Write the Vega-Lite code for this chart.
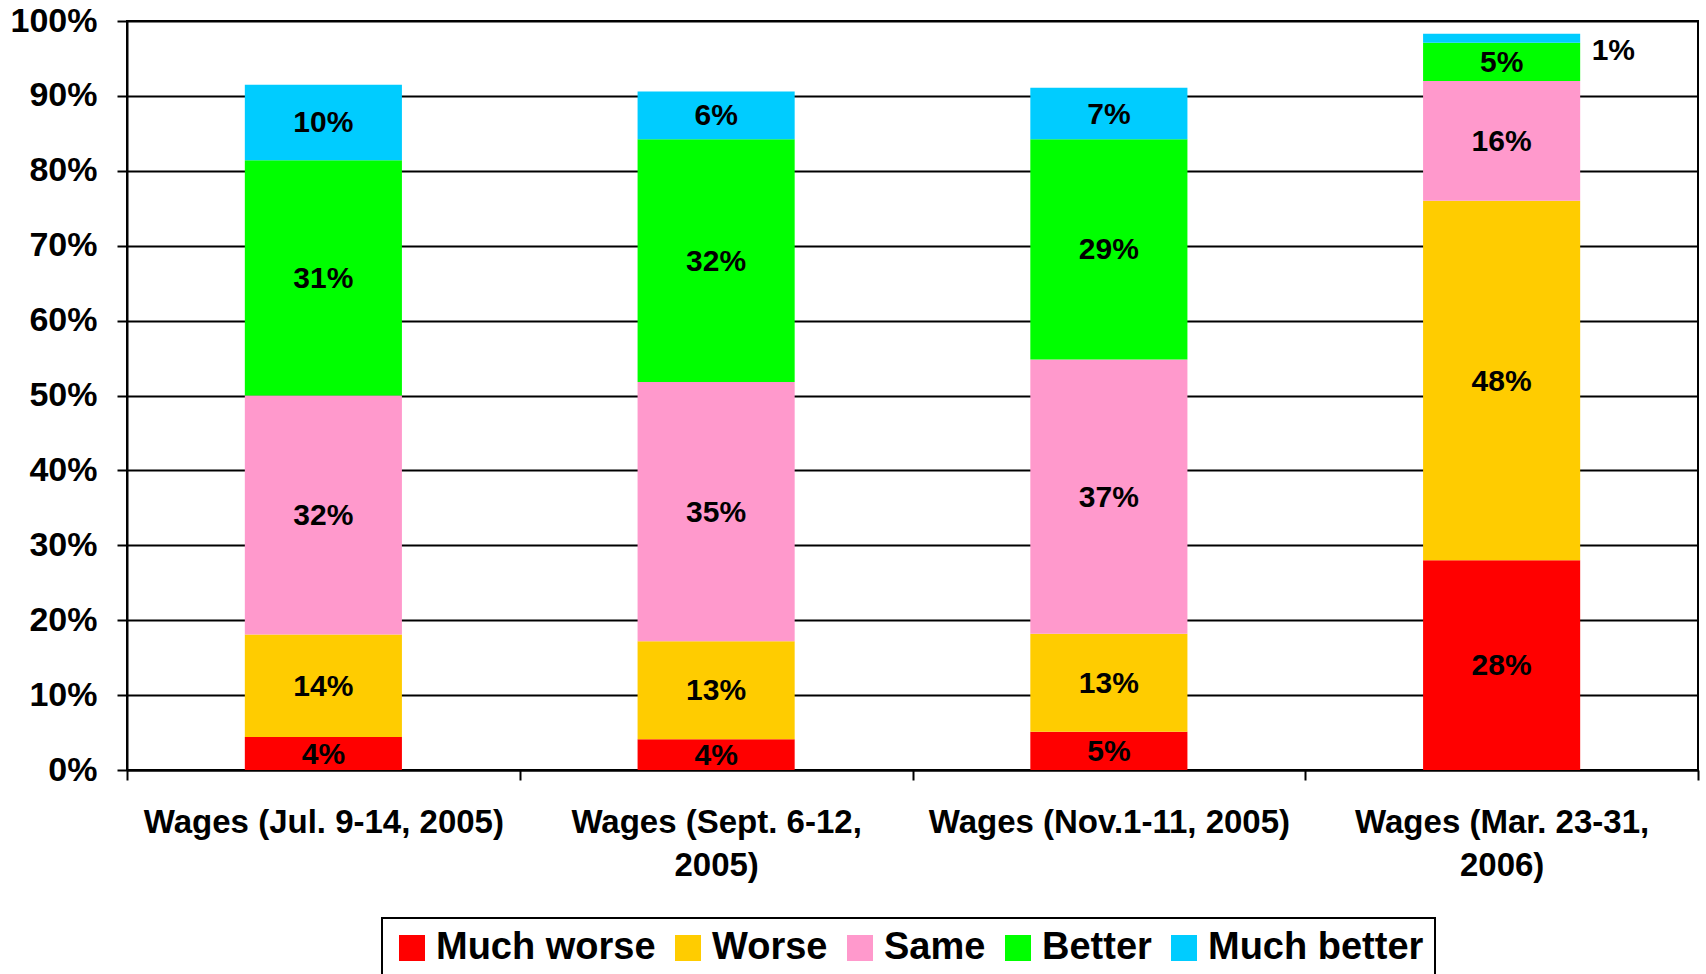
{
  "$schema": "https://vega.github.io/schema/vega-lite/v6.json",
  "width": 1571,
  "height": 749,
  "autosize": {"type": "none"},
  "padding": {"left": 127, "top": 21, "right": 8, "bottom": 204},
  "background": "white",
  "config": {
    "view": {"stroke": "black", "strokeWidth": 2},
    "font": "Liberation Sans",
    "legend": {"strokeWidth": 2}
  },
  "data": {
    "values": [
      {"wave": "Wages (Jul. 9-14, 2005)", "resp": "Much worse", "k": 1, "v": 4.4},
      {"wave": "Wages (Jul. 9-14, 2005)", "resp": "Worse", "k": 2, "v": 13.7},
      {"wave": "Wages (Jul. 9-14, 2005)", "resp": "Same", "k": 3, "v": 31.9},
      {"wave": "Wages (Jul. 9-14, 2005)", "resp": "Better", "k": 4, "v": 31.4},
      {"wave": "Wages (Jul. 9-14, 2005)", "resp": "Much better", "k": 5, "v": 10.1},
      {"wave": "Wages (Sept. 6-12,|2005)", "resp": "Much worse", "k": 1, "v": 4.1},
      {"wave": "Wages (Sept. 6-12,|2005)", "resp": "Worse", "k": 2, "v": 13.1},
      {"wave": "Wages (Sept. 6-12,|2005)", "resp": "Same", "k": 3, "v": 34.6},
      {"wave": "Wages (Sept. 6-12,|2005)", "resp": "Better", "k": 4, "v": 32.4},
      {"wave": "Wages (Sept. 6-12,|2005)", "resp": "Much better", "k": 5, "v": 6.4},
      {"wave": "Wages (Nov.1-11, 2005)", "resp": "Much worse", "k": 1, "v": 5.1},
      {"wave": "Wages (Nov.1-11, 2005)", "resp": "Worse", "k": 2, "v": 13.1},
      {"wave": "Wages (Nov.1-11, 2005)", "resp": "Same", "k": 3, "v": 36.6},
      {"wave": "Wages (Nov.1-11, 2005)", "resp": "Better", "k": 4, "v": 29.4},
      {"wave": "Wages (Nov.1-11, 2005)", "resp": "Much better", "k": 5, "v": 6.9},
      {"wave": "Wages (Mar. 23-31,|2006)", "resp": "Much worse", "k": 1, "v": 28.0},
      {"wave": "Wages (Mar. 23-31,|2006)", "resp": "Worse", "k": 2, "v": 48.0},
      {"wave": "Wages (Mar. 23-31,|2006)", "resp": "Same", "k": 3, "v": 16.0},
      {"wave": "Wages (Mar. 23-31,|2006)", "resp": "Better", "k": 4, "v": 5.1},
      {"wave": "Wages (Mar. 23-31,|2006)", "resp": "Much better", "k": 5, "v": 1.2}
    ]
  },
  "transform": [
    {"stack": "v", "groupby": ["wave"], "sort": [{"field": "k", "order": "ascending"}], "as": ["lo", "hi"]},
    {"calculate": "(datum.lo + datum.hi) * 0.5", "as": "mid"},
    {"calculate": "format(datum.v, '.0f') + '%'", "as": "lbl"}
  ],
  "encoding": {
    "x": {
      "field": "wave",
      "type": "nominal",
      "sort": null,
      "scale": {"paddingInner": 0, "paddingOuter": 0},
      "axis": {
        "title": null,
        "labelAngle": 0,
        "labelExpr": "split(datum.label, '|')",
        "labelFont": "Liberation Sans",
        "labelFontWeight": "bold",
        "labelFontSize": 33,
        "labelColor": "black",
        "labelLineHeight": 43,
        "labelPadding": 26,
        "labelLimit": 600,
        "tickBand": "extent",
        "tickColor": "black",
        "tickWidth": 2,
        "tickSize": 10,
        "domainColor": "black",
        "domainWidth": 2
      }
    }
  },
  "layer": [
    {
      "mark": {"type": "bar", "width": {"band": 0.4}},
      "encoding": {
        "y": {
          "field": "lo",
          "type": "quantitative",
          "scale": {"domain": [0, 100], "nice": false},
          "axis": {
            "title": null,
            "values": [0, 10, 20, 30, 40, 50, 60, 70, 80, 90, 100],
            "labelExpr": "datum.value + '%'",
            "labelFont": "Liberation Sans",
            "labelFontWeight": "bold",
            "labelFontSize": 34,
            "labelColor": "black",
            "labelPadding": 20,
            "grid": true,
            "gridColor": "black",
            "gridWidth": 2,
            "gridOpacity": 1,
            "tickColor": "black",
            "tickWidth": 2,
            "tickSize": 10,
            "domainColor": "black",
            "domainWidth": 2
          }
        },
        "y2": {"field": "hi"},
        "color": {
          "field": "resp",
          "type": "nominal",
          "scale": {
            "domain": ["Much worse", "Worse", "Same", "Better", "Much better"],
            "range": ["#FF0000", "#FFCC00", "#FF99CC", "#00FF00", "#00CCFF"]
          },
          "legend": {
            "title": null,
            "orient": "none",
            "legendX": 255,
            "legendY": 897,
            "direction": "horizontal",
            "symbolType": "square",
            "symbolSize": 676,
            "symbolStrokeWidth": 0,
            "symbolOpacity": 1,
            "labelFont": "Liberation Sans",
            "labelFontWeight": "bold",
            "labelFontSize": 38,
            "labelColor": "black",
            "labelOffset": 5,
            "labelLimit": 400,
            "columnPadding": 13,
            "padding": 11,
            "strokeColor": "black",
            "fillColor": "white"
          }
        }
      }
    },
    {
      "transform": [{"filter": {"field": "v", "gte": 2}}],
      "mark": {"type": "text", "font": "Liberation Sans", "fontWeight": "bold", "fontSize": 30, "color": "black", "baseline": "middle", "align": "center", "dy": 1},
      "encoding": {
        "y": {"field": "mid", "type": "quantitative"},
        "text": {"field": "lbl"}
      }
    },
    {
      "transform": [{"filter": {"field": "v", "lt": 2}}],
      "mark": {"type": "text", "font": "Liberation Sans", "fontWeight": "bold", "fontSize": 30, "color": "black", "baseline": "middle", "align": "left", "dx": 90, "dy": 13},
      "encoding": {
        "y": {"field": "mid", "type": "quantitative"},
        "text": {"field": "lbl"}
      }
    }
  ]
}
